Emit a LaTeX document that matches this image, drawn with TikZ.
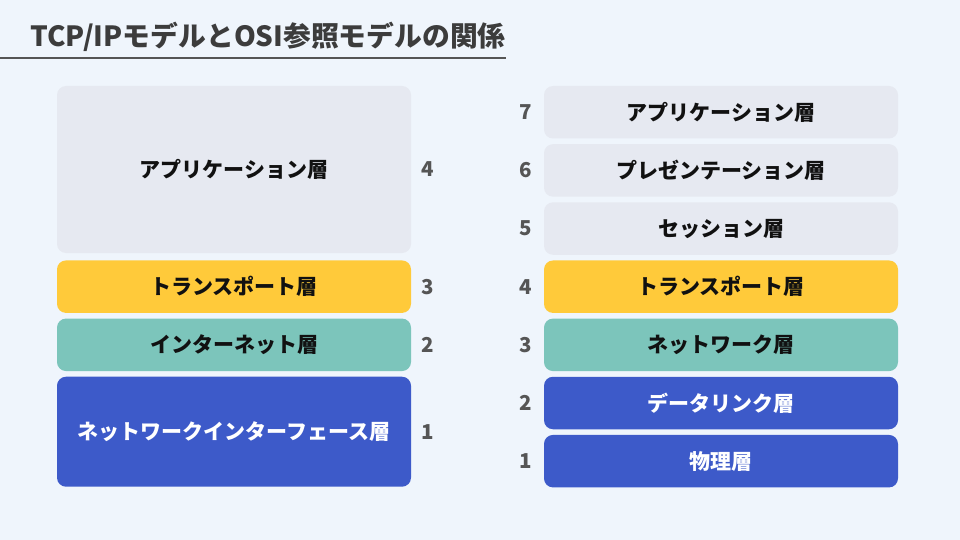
\documentclass[tikz,border=0pt]{standalone}
\usepackage{fontspec}
\setmainfont{Noto Sans CJK JP}
\usetikzlibrary{positioning}
\definecolor{bgpage}{HTML}{EFF5FC}
\definecolor{laygray}{HTML}{E6E9F1}
\definecolor{layyellow}{HTML}{FFCA3A}
\definecolor{layteal}{HTML}{7CC5BB}
\definecolor{layblue}{HTML}{3D5AC9}
\definecolor{titlegray}{HTML}{3C3C3C}
\definecolor{numgray}{HTML}{555555}
\definecolor{laytext}{HTML}{111111}

\begin{document}
\begin{tikzpicture}[x=1pt, y=-1pt, node distance=5.25pt,
  layer/.style={rounded corners=9pt, minimum width=354pt, minimum height=52.5pt, inner sep=0pt,
    font=\fontsize{21}{21}\selectfont\bfseries, text=laytext},
  num/.style={inner sep=0pt, font=\fontsize{20.5}{20.5}\selectfont\bfseries, text=numgray}]
  \fill[bgpage] (0,0) rectangle (960,540);
  \useasboundingbox (0,0) rectangle (960,540);
  \node[anchor=west, inner sep=0pt, text=titlegray, font=\fontsize{27.8}{27.8}\selectfont\bfseries] (title) at (30,37)
    {TCP/IPモデルとOSI参照モデルの関係};
  \draw[numgray, line width=2pt] (0,58) -- (506,58);

  \node[layer, fill=laygray, minimum height=167pt] (tapp) at (234,169.5) {アプリケーション層};
  \node[layer, fill=layyellow, below=7pt of tapp] (ttrans) {トランスポート層};
  \node[layer, fill=layteal, below=of ttrans] (tnet) {インターネット層};
  \node[layer, fill=layblue, text=white, minimum height=110pt, below=of tnet] (tlink) {ネットワークインターフェース層};
  \node[num, right=10pt of tapp] (tn4) {4};
  \node[num, right=10pt of ttrans] (tn3) {3};
  \node[num, right=10pt of tnet] (tn2) {2};
  \node[num, right=10pt of tlink] (tn1) {1};

  \node[layer, fill=laygray] (o7) at (721,112.25) {アプリケーション層};
  \node[layer, fill=laygray, below=of o7] (o6) {プレゼンテーション層};
  \node[layer, fill=laygray, below=of o6] (o5) {セッション層};
  \node[layer, fill=layyellow, below=of o5] (o4) {トランスポート層};
  \node[layer, fill=layteal, below=of o4] (o3) {ネットワーク層};
  \node[layer, fill=layblue, text=white, below=of o3] (o2) {データリンク層};
  \node[layer, fill=layblue, text=white, below=of o2] (o1) {物理層};
  \node[num, left=12pt of o7] (on7) {7};
  \node[num, left=12pt of o6] (on6) {6};
  \node[num, left=12pt of o5] (on5) {5};
  \node[num, left=12pt of o4] (on4) {4};
  \node[num, left=12pt of o3] (on3) {3};
  \node[num, left=12pt of o2] (on2) {2};
  \node[num, left=12pt of o1] (on1) {1};
\end{tikzpicture}
\end{document}
